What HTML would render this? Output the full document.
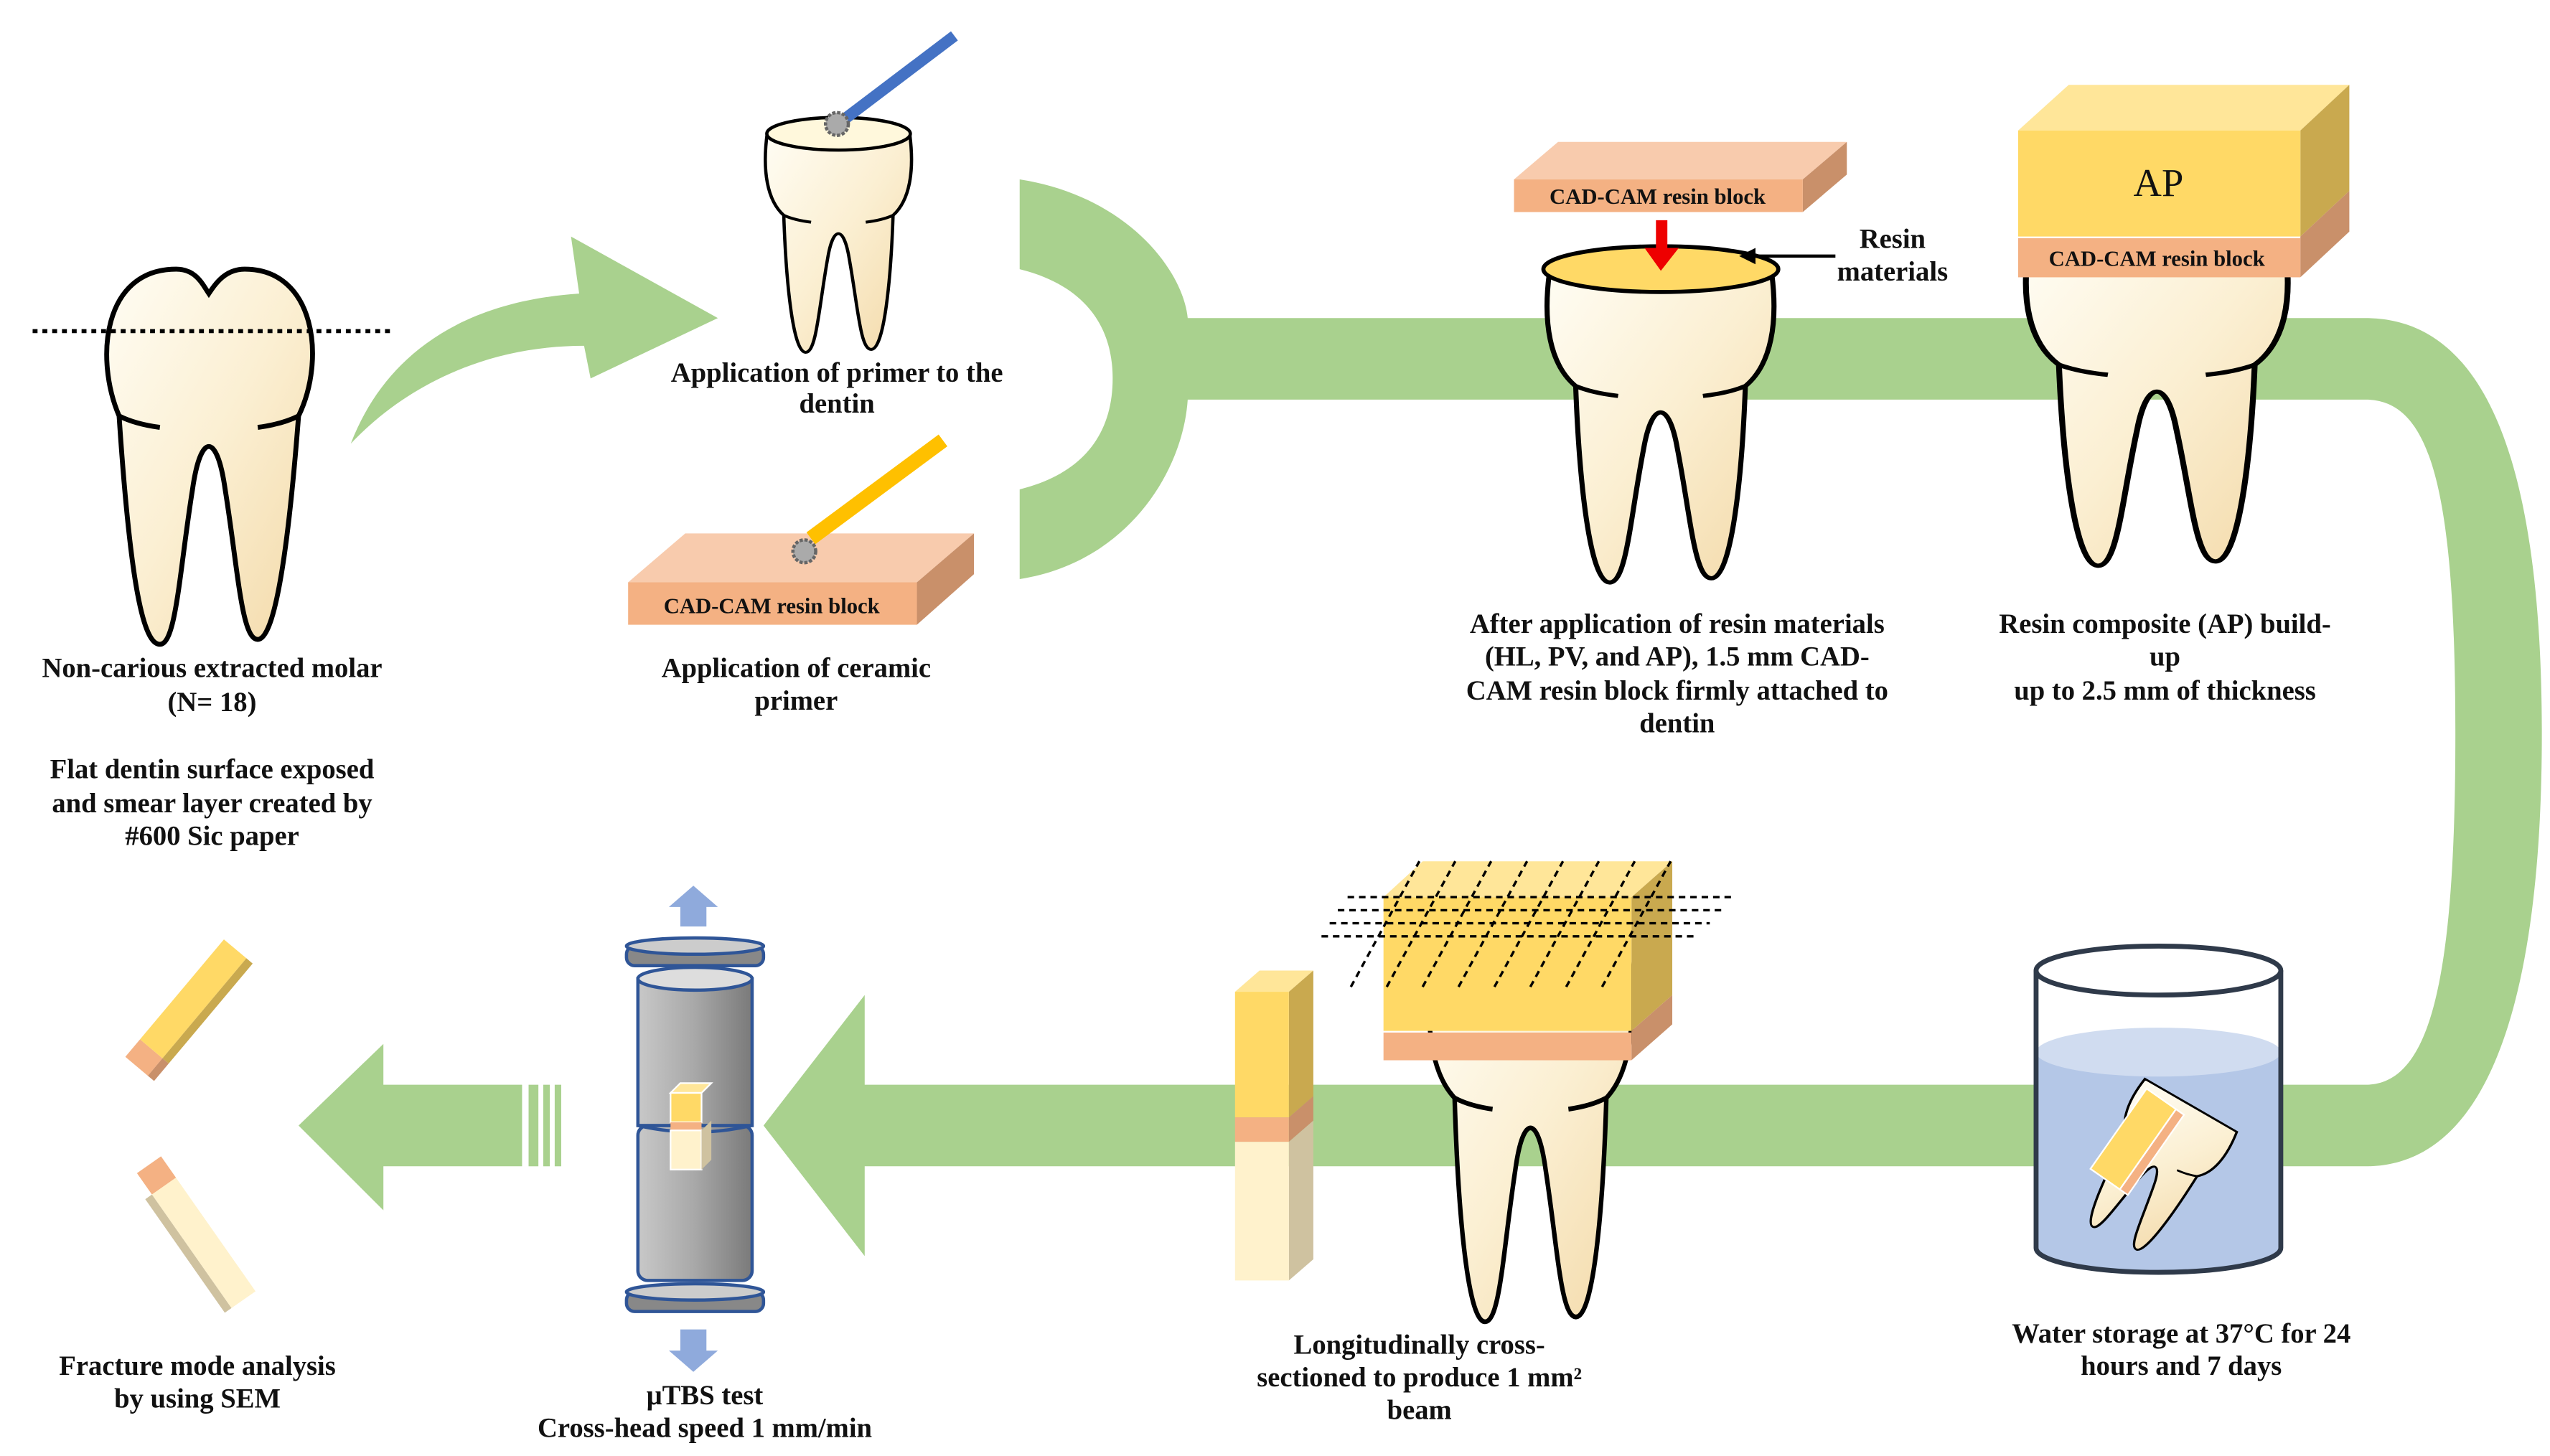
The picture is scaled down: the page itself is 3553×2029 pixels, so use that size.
<!DOCTYPE html>
<html><head><meta charset="utf-8"><style>
html,body{margin:0;padding:0;background:#fff;}
svg{display:block;}
text{font-family:"Liberation Serif",serif;font-size:17px;font-weight:bold;fill:#111;text-anchor:middle;}
</style></head><body>
<svg width="3553" height="2029" viewBox="0 0 1563 892.6" preserveAspectRatio="none" xmlns="http://www.w3.org/2000/svg">
<defs>
<linearGradient id="tg" x1="0" y1="0" x2="1" y2="1"><stop offset="0" stop-color="#fffdf4"/><stop offset="0.5" stop-color="#fbefd2"/><stop offset="1" stop-color="#f3d9a8"/></linearGradient>
<linearGradient id="cy" x1="0" y1="0" x2="1" y2="0"><stop offset="0" stop-color="#c8c8c8"/><stop offset="0.5" stop-color="#a8a8a8"/><stop offset="1" stop-color="#7a7a7a"/></linearGradient>
<g id="tooth">
<path d="M15,95 C0,60 5,5 50,5 C62,5 66,14 70,20 C74,14 80,5 92,5 C135,5 142,60 125,95 C120,160 112,232 100,232 C90,232 88,190 80,140 C75,105 65,105 60,140 C52,190 50,235 40,235 C30,235 22,200 15,95 Z" fill="url(#tg)" stroke="#000" stroke-width="3"/>
<path d="M15,95 Q25,100 40,102 M100,102 Q115,100 125,95" fill="none" stroke="#000" stroke-width="3"/>
</g>
<g id="ftooth">
<path d="M5,10 C0,50 5,80 20,95 C22,160 28,235 40,235 C50,235 52,190 60,140 C65,105 75,105 80,140 C88,190 90,232 100,232 C112,232 118,160 120,95 C135,80 140,50 135,10 Z" fill="url(#tg)" stroke="#000" stroke-width="3"/>
<path d="M20,95 Q30,100 45,102 M95,102 Q110,100 120,95" fill="none" stroke="#000" stroke-width="3"/>
</g>
</defs>

<path d="M625,110 C690,120 725,165 728,195 L1450,195 C1530,195 1558,300 1558,450 C1558,600 1530,715 1450,715 L530,715 L530,770 L468,690 L530,610 L530,665 L1450,665 C1490,665 1505,600 1505,450 C1505,300 1490,245 1450,245 L728,245 C725,290 690,345 625,355 L625,300 C665,290 682,265 682,232 C682,200 665,175 625,165 Z" fill="#a9d18e"/>
<path d="M320,665 L235,665 L235,640 L183,690 L235,742 L235,715 L320,715 Z" fill="#a9d18e"/>
<rect x="324" y="665" width="6" height="50" fill="#a9d18e"/><rect x="333" y="665" width="4" height="50" fill="#a9d18e"/><rect x="340" y="665" width="4" height="50" fill="#a9d18e"/>
<path d="M215,272 C235,220 280,185 355,180 L350,145 L440,195 L362,232 L358,212 C300,212 250,235 215,272 Z" fill="#a9d18e"/>

<use href="#tooth" transform="translate(58,160)"/>
<line x1="20" y1="203" x2="240" y2="203" stroke="#000" stroke-width="2.5" stroke-dasharray="3,3"/>

<use href="#ftooth" transform="translate(467,75) scale(0.67,0.6)"/>
<ellipse cx="514" cy="82" rx="44" ry="10" fill="#fff8dc" stroke="#000" stroke-width="2"/>
<line x1="515" y1="75" x2="585" y2="22" stroke="#4472c4" stroke-width="7"/>
<circle cx="513" cy="76" r="7" fill="#aaa" stroke="#666" stroke-width="2" stroke-dasharray="2,1"/>

<polygon points="385,357 420,327 597,327 562,357" fill="#f8cbad"/>
<polygon points="562,357 597,327 597,352 562,383" fill="#c9906a"/>
<rect x="385" y="357" width="177" height="26" fill="#f4b183"/>
<text x="473" y="376" style="font-size:13.5px">CAD-CAM resin block</text>
<line x1="497" y1="330" x2="578" y2="270" stroke="#ffc000" stroke-width="9"/>
<circle cx="493" cy="338" r="7" fill="#aaa" stroke="#666" stroke-width="2" stroke-dasharray="2,1"/>

<use href="#ftooth" transform="translate(945,155) scale(1.04,0.86)"/>
<ellipse cx="1018" cy="165" rx="72" ry="14" fill="#ffd966" stroke="#000" stroke-width="2.5"/>
<polygon points="928,110 955,87 1132,87 1105,110" fill="#f8cbad"/>
<polygon points="1105,110 1132,87 1132,107 1105,130" fill="#c9906a"/>
<rect x="928" y="110" width="177" height="20" fill="#f4b183"/>
<text x="1016" y="125" style="font-size:13.5px">CAD-CAM resin block</text>
<rect x="1015" y="135" width="7" height="18" fill="#e00"/><polygon points="1008,152 1029,152 1018,166" fill="#e00"/>
<line x1="1125" y1="157" x2="1072" y2="157" stroke="#000" stroke-width="2"/><polygon points="1066,157 1076,152 1076,162" fill="#000"/>
<text x="1160" y="152">Resin</text><text x="1160" y="172">materials</text>

<use href="#ftooth" transform="translate(1238,140) scale(1.2,0.88)"/>
<polygon points="1237,80 1268,52 1440,52 1410,80" fill="#ffe699"/>
<polygon points="1410,80 1440,52 1440,117 1410,145" fill="#c9a94f"/>
<rect x="1237" y="80" width="173" height="65" fill="#ffd966"/>
<text x="1323" y="120" style="font-size:24px;font-weight:normal">AP</text>
<polygon points="1410,145 1440,117 1440,142 1410,170" fill="#c9906a"/>
<rect x="1237" y="146" width="173" height="24" fill="#f4b183"/>
<text x="1322" y="163" style="font-size:13.5px">CAD-CAM resin block</text>

<use href="#ftooth" transform="translate(873,580) scale(0.93,0.98)"/>
<polygon points="848,550 872,528 1025,528 1000,550" fill="#ffe699"/>
<polygon points="1000,550 1025,528 1025,610 1000,632" fill="#c9a94f"/>
<rect x="848" y="550" width="152" height="82" fill="#ffd966"/>
<polygon points="1000,632 1025,610 1025,628 1000,650" fill="#c9906a"/>
<rect x="848" y="633" width="152" height="17" fill="#f4b183"/>
<g stroke="#000" stroke-width="1.5" stroke-dasharray="4,3">
<line x1="826" y1="550" x2="1062" y2="550"/><line x1="820" y1="558" x2="1055" y2="558"/><line x1="815" y1="566" x2="1048" y2="566"/><line x1="810" y1="574" x2="1040" y2="574"/>
<line x1="828" y1="605" x2="870" y2="528"/><line x1="850" y1="605" x2="892" y2="528"/><line x1="872" y1="605" x2="914" y2="528"/><line x1="894" y1="605" x2="936" y2="528"/><line x1="916" y1="605" x2="958" y2="528"/><line x1="938" y1="605" x2="980" y2="528"/><line x1="960" y1="605" x2="1002" y2="528"/><line x1="982" y1="605" x2="1024" y2="528"/>
</g>

<polygon points="757,608 772,595 805,595 790,608" fill="#ffe699"/>
<polygon points="790,608 805,595 805,672 790,685" fill="#c9a94f"/>
<polygon points="790,685 805,672 805,687 790,700" fill="#c9906a"/>
<polygon points="790,700 805,687 805,772 790,785" fill="#cfc2a0"/>
<rect x="757" y="608" width="33" height="77" fill="#ffd966"/>
<rect x="757" y="685" width="33" height="15" fill="#f4b183"/>
<rect x="757" y="700" width="33" height="85" fill="#fff2cc"/>

<path d="M1248,645 L1248,765 A75,15 0 0 0 1398,765 L1398,645 Z" fill="#b4c7e7"/>
<ellipse cx="1323" cy="645" rx="75" ry="15" fill="#d0dcf0"/>
<g transform="translate(1330,700) rotate(30)">
<use href="#ftooth" transform="translate(-35,-30) scale(0.5,0.42)"/>
</g>
<g transform="translate(1310,700) rotate(-55)">
<rect x="-30" y="-14" width="60" height="22" fill="#ffd966" stroke="#fff"/>
<rect x="-30" y="8" width="60" height="6" fill="#f4b183" stroke="#fff"/>
</g>
<path d="M1248,595 L1248,765 A75,15 0 0 0 1398,765 L1398,595" fill="none" stroke="#2f3a4a" stroke-width="3"/>
<ellipse cx="1323" cy="595" rx="75" ry="15" fill="none" stroke="#2f3a4a" stroke-width="3"/>

<polygon points="417,568 417,556 410,556 425,543 440,556 433,556 433,568" fill="#8faadc"/>
<polygon points="417,815 417,828 410,828 425,841 440,828 433,828 433,815" fill="#8faadc"/>
<rect x="384" y="580" width="84" height="12" rx="5" fill="#888" stroke="#2f5597" stroke-width="2"/>
<ellipse cx="426" cy="580" rx="42" ry="5" fill="#ccc" stroke="#2f5597" stroke-width="2"/>
<rect x="391" y="690" width="70" height="95" rx="6" fill="url(#cy)" stroke="#2f5597" stroke-width="2"/>
<rect x="391" y="600" width="70" height="90" fill="url(#cy)" stroke="#2f5597" stroke-width="2"/>
<ellipse cx="426" cy="600" rx="35" ry="7" fill="#ddd" stroke="#2f5597" stroke-width="2"/>
<path d="M391,690 Q426,698 461,690" fill="none" stroke="#2f5597" stroke-width="2"/>
<rect x="384" y="792" width="84" height="12" rx="5" fill="#888" stroke="#2f5597" stroke-width="2"/>
<ellipse cx="426" cy="792" rx="42" ry="5" fill="#ccc" stroke="#2f5597" stroke-width="2"/>
<polygon points="411,670 417,664 436,664 430,670" fill="#ffe699" stroke="#fff"/>
<rect x="411" y="670" width="19" height="18" fill="#ffd966" stroke="#fff"/>
<rect x="411" y="688" width="19" height="5" fill="#f4b183"/>
<rect x="411" y="693" width="19" height="24" fill="#fff2cc" stroke="#fff"/>
<polygon points="430,693 436,687 436,711 430,717" fill="#cfc2a0"/>

<g transform="translate(112,620) rotate(-50)">
<rect x="-44" y="-9" width="14" height="18" fill="#f4b183"/><rect x="-44" y="9" width="14" height="5" fill="#c9906a"/>
<rect x="-30" y="-9" width="80" height="18" fill="#ffd966"/><rect x="-30" y="9" width="80" height="5" fill="#c9a94f"/>
</g>
<g transform="translate(120,755) rotate(55)">
<rect x="-50" y="-9" width="16" height="18" fill="#f4b183"/><rect x="-34" y="-9" width="85" height="18" fill="#fff2cc"/><rect x="-34" y="9" width="85" height="5" fill="#cfc2a0"/>
</g>

<text x="130" y="415">Non-carious extracted molar</text>
<text x="130" y="436">(N= 18)</text>
<text x="130" y="477">Flat dentin surface exposed</text>
<text x="130" y="498">and smear layer created by</text>
<text x="130" y="518">#600 Sic paper</text>
<text x="513" y="234">Application of primer to the</text>
<text x="513" y="253">dentin</text>
<text x="488" y="415">Application of ceramic</text>
<text x="488" y="435">primer</text>
<text x="1028" y="388">After application of resin materials</text>
<text x="1028" y="408">(HL, PV, and AP), 1.5 mm CAD-</text>
<text x="1028" y="429">CAM resin block firmly attached to</text>
<text x="1028" y="449">dentin</text>
<text x="1327" y="388">Resin composite (AP) build-</text>
<text x="1327" y="408">up</text>
<text x="1327" y="429">up to 2.5 mm of thickness</text>
<text x="1337" y="823">Water storage at 37°C for 24</text>
<text x="1337" y="843">hours and 7 days</text>
<text x="870" y="830">Longitudinally cross-</text>
<text x="870" y="850">sectioned to produce 1 mm²</text>
<text x="870" y="870">beam</text>
<text x="432" y="861">μTBS test</text>
<text x="432" y="881">Cross-head speed 1 mm/min</text>
<text x="121" y="843">Fracture mode analysis</text>
<text x="121" y="863">by using SEM</text>
</svg>
</body></html>
